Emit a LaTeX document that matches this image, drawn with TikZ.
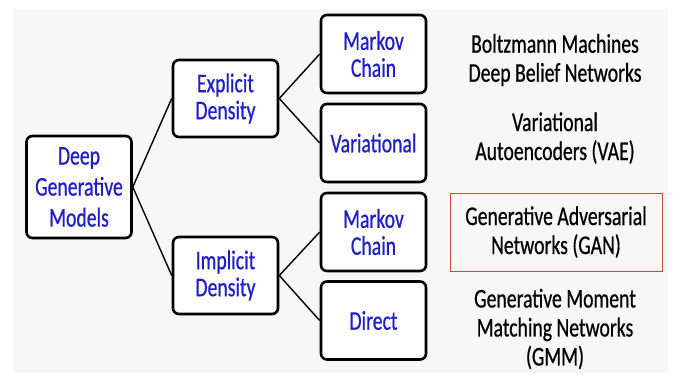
\documentclass[tikz,border=0pt]{standalone}
\usepackage{fontspec}
\setmainfont{Carlito}[FakeStretch=0.73, FakeBold=0.6]
\usetikzlibrary{calc, backgrounds}
\definecolor{boxblue}{RGB}{30,30,200}
\definecolor{ganred}{RGB}{200,70,60}
\definecolor{bggray}{RGB}{247,247,247}
\tikzstyle{box}=[draw, line width=2.6pt, rounded corners=6pt, fill=white, text=boxblue, align=center, minimum width=105pt, inner sep=1pt, font=\fontsize{27}{27}\selectfont]
\tikzstyle{family}=[align=center, font=\fontsize{27}{29}\selectfont]
\tikzstyle{link}=[line width=1.4pt]

\begin{document}
\begin{tikzpicture}[x=1pt, y=-1pt]
		\useasboundingbox (0,0) rectangle (673,373);

		\node[box, minimum height=102pt, font=\fontsize{27}{31}\selectfont](dgm) at (79,187) {Deep\\Generative\\Models};
		\node[box, minimum height=77pt](expl) at (225.5,98.5) {Explicit\\Density};
		\node[box, minimum height=77pt](impl) at (225.5,275.5) {Implicit\\Density};

		\node[box, minimum height=78pt](mc1) at (373.5,54) {Markov\\Chain};
		\node[box, minimum height=78pt](var) at (373.5,143) {Variational};
		\node[box, minimum height=78pt](mc2) at (373.5,232) {Markov\\Chain};
		\node[box, minimum height=78pt](dir) at (373.5,320.5) {Direct};

		\node[family](boltz) at (555,60) {Boltzmann Machines\\Deep Belief Networks};
		\node[family](vae) at (555,138) {Variational\\Autoencoders (VAE)};
		\node[family, draw=ganred, line width=0.8pt, minimum width=212pt, minimum height=78pt](gan) at (556,232) {Generative Adversarial\\Networks (GAN)};
		\node[family](gmm) at (555,329) {Generative Moment\\Matching Networks\\(GMM)};

		\begin{scope}[on background layer]
		\fill[bggray] (13,9) rectangle (668,373);
		\end{scope}

		\draw[link] (dgm.east) -- (expl.west);
		\draw[link] (dgm.east) -- (impl.west);
		\draw[link] (expl.east) -- (mc1.west);
		\draw[link] (expl.east) -- (var.west);
		\draw[link] (impl.east) -- (mc2.west);
		\draw[link] (impl.east) -- (dir.west);
		\end{tikzpicture}
\end{document}
